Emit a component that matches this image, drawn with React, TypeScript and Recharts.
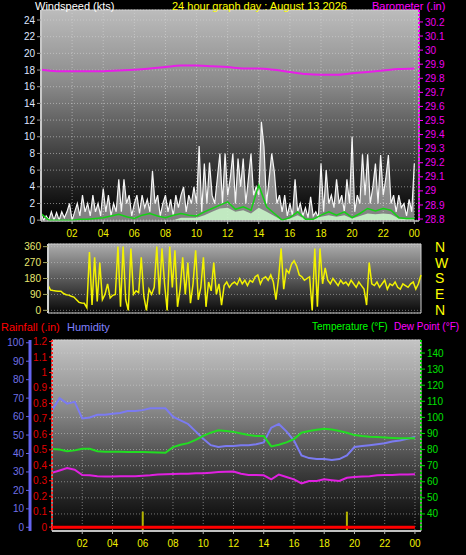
import React from "react";
import {
  ComposedChart,
  Line,
  Area,
  XAxis,
  YAxis,
  CartesianGrid,
  ReferenceArea,
  ReferenceLine,
} from "recharts";

// ---- tick labels ----
const hourTicks = [2, 4, 6, 8, 10, 12, 14, 16, 18, 20, 22, 24];
const windTicks = [0, 2, 4, 6, 8, 10, 12, 14, 16, 18, 20, 22, 24];
const baroTicks = [28.8, 28.9, 29, 29.1, 29.2, 29.3, 29.4, 29.5, 29.6, 29.7, 29.8, 29.9, 30, 30.1, 30.2];
const dirTicks = [0, 90, 180, 270, 360];
const compassNames: Record<number, string> = { 0: "N", 90: "E", 180: "S", 270: "W", 360: "N" };
const rainTicks = [0, 0.1, 0.2, 0.3, 0.4, 0.5, 0.6, 0.7, 0.8, 0.9, 1, 1.1, 1.2];
const humTicks = [0, 10, 20, 30, 40, 50, 60, 70, 80, 90, 100];
const tempTicks = [40, 50, 60, 70, 80, 90, 100, 110, 120, 130, 140];

// ---- wind gust (kts), every 10 min ----
const windGust = [
  0.8, 0, 0.5, 0, 1, 0,
  0.9, 0, 1, 0.3, 1, 2,
  0, 1, 2, 0.5, 3, 1,
  2, 0.5, 3, 1, 2, 0.5,
  3.8, 1, 3, 0.5, 2, 1,
  4.9, 1, 4.9, 2, 3, 0.5,
  2, 3, 0.8, 3, 1.5, 2.5,
  1, 5.9, 2, 3, 0.5, 2,
  3, 1, 2.5, 0.5, 3, 1.5,
  3, 4, 1, 3, 2, 4,
  2, 8.9, 1, 6.8, 2, 6.9,
  3, 2, 5, 8, 2, 8,
  3, 5, 8, 2, 7.4, 4,
  7.4, 2, 5, 8, 3, 4,
  3, 11.8, 8.8, 2, 5, 8,
  5.8, 2, 3, 1, 3, 0.5,
  2, 0.5, 4.9, 1, 2, 0.5,
  1.5, 0.3, 2.8, 0.5, 1, 0.3,
  6.8, 1, 6, 2, 3, 1.5,
  4.9, 2, 3, 1, 4.9, 2,
  10, 1, 3, 2, 7.9, 3,
  7.9, 2, 4, 6.8, 2, 7.8,
  3, 5, 7.8, 2, 3, 1,
  3, 1.5, 2, 0.5, 2.5, 1,
  6.8,
];

// ---- wind average and speed (kts), every 30 min ----
const windAvg = [
  0.8, 0, 0, 0, 0, 0.1, 0.1, 0.2, 0.3, 0.5, 0.7, 0.4, 0.2, 0.6, 0.8, 0.5,
  0.3, 0.6, 0.8, 0.6, 0.5, 1.0, 1.4, 1.8, 2.2, 1.3, 1.6, 1.2, 4.2, 1.6,
  0.8, 0, 0.3, 1.0, 0.1, 0.1, 0.6, 1.0, 0.6, 1.0, 0.3, 0.8, 1.4, 1.1,
  1.4, 1.2, 0.3, 0.2, 0.2,
];
const windSpeed = [
  0, 0, 0, 0, 0, 0, 0, 0, 0, 0, 0, 0, 0, 0, 0, 0,
  0, 0, 0.3, 0.3, 0.3, 0.6, 1.0, 1.4, 1.5, 1.0, 1.2, 0.8, 1.5, 1.0,
  0.5, 0, 0.2, 0.6, 0.1, 0.1, 0.4, 0.6, 0.4, 0.6, 0.2, 0.5, 0.8, 0.7,
  0.8, 0.7, 0.2, 0.1, 0.1,
];

// ---- barometer (in), hourly ----
const barometer = [
  29.86, 29.85, 29.85, 29.85, 29.85, 29.855, 29.86, 29.87, 29.88, 29.89, 29.89,
  29.885, 29.88, 29.87, 29.87, 29.86, 29.845, 29.83, 29.825, 29.825, 29.835,
  29.845, 29.855, 29.865, 29.87,
];

// ---- wind direction (deg), every 10 min ----
const windDir = [
  143, 115, 112, 110, 108, 108,
  95, 88, 86, 80, 75, 60,
  45, 42, 40, 15, 330, 30,
  300, 50, 270, 60, 90, 150,
  70, 85, 90, 360, 20, 360,
  60, 0, 350, 90, 110, 100,
  300, 80, 0, 120, 90, 130,
  360, 90, 350, 150, 0, 360,
  130, 340, 20, 120, 300, 90,
  270, 40, 150, 340, 60, 130,
  300, 20, 160, 110, 270, 90,
  150, 30, 140, 160, 130, 150,
  160, 145, 180, 150, 170, 140,
  170, 160, 190, 200, 150, 180,
  190, 170, 200, 160, 60, 180,
  350, 120, 230, 210, 260, 280,
  250, 200, 190, 170, 180, 190,
  0, 350, 20, 350, 150, 240,
  170, 150, 180, 160, 140, 170,
  150, 160, 140, 170, 150, 130,
  160, 140, 120, 30, 270, 150,
  140, 160, 130, 150, 170, 120,
  150, 140, 160, 130, 120, 150,
  140, 130, 150, 160, 120, 150,
  200,
];

// ---- humidity (%), temperature and dew point (F), every 30 min ----
const humidity = [
  63.5, 70, 67, 68, 59, 59.5, 61, 61, 61.5, 62, 63, 63, 63.5, 64.5, 64.5, 64.5,
  60, 58, 56, 52, 48, 44.5, 43.5, 44, 44, 44.5, 44.5, 45, 46, 54, 56, 52, 47,
  39, 37.5, 37, 37, 36.5, 37, 39, 43.5, 44, 44.5, 45, 45.5, 46.5, 47, 48, 49,
];
const temperature = [
  80.4, 80, 79, 79.5, 80.5, 80.5, 79, 78.7, 78.7, 78.7, 78.5, 78.5, 78.5, 78.3,
  78.2, 78, 81.5, 83, 84, 86, 88.5, 90.5, 92, 91.5, 91, 90, 89, 88.5, 88.4, 82,
  83, 84.5, 86.5, 90.5, 91.5, 92.3, 93, 92.5, 91.5, 90.5, 89, 88.4, 88, 87.8,
  87.5, 87.2, 87, 87, 87,
];
const dewPoint = [
  65.6, 67, 68.5, 67.5, 64.2, 64, 63.5, 63.2, 63.2, 63.5, 63.5, 63.5, 63.8, 64,
  64.5, 64.7, 64.8, 65, 65, 65.3, 65.3, 65.6, 66, 66.2, 66.3, 65, 64.2, 64.2, 64,
  61.5, 64.5, 63, 61.5, 59, 60.5, 60.5, 61.5, 61, 60.5, 62.5, 63, 63.2, 63.5, 64,
  64.2, 64.2, 64.5, 64.5, 64.7,
];

// ---- rainfall (in), hourly, and rain marker hours ----
const rainfall = [0, 0, 0, 0, 0, 0, 0, 0, 0, 0, 0, 0, 0, 0, 0, 0, 0, 0, 0, 0, 0, 0, 0, 0, 0];
const rainMarks = [6, 19.5];

const rows = (vals: number[], perHour: number) => vals.map((v, i) => ({ h: i / perHour, v }));

const hourLabel = (h: number) => (h === 24 ? "00" : String(h).padStart(2, "0"));
const trimNum = (v: number) => String(Number(v.toFixed(1)));

const FONT = "'Liberation Sans', Arial, sans-serif";

const label = (text: string, left: number, top: number, color: string, size = 11) => (
  <div
    style={{
      position: "absolute",
      left,
      top,
      color,
      fontSize: size,
      lineHeight: "12px",
      whiteSpace: "nowrap",
    }}
  >
    {text}
  </div>
);

const App = () => {
  const gustRows = rows(windGust, 6);
  const avgRows = rows(windAvg, 2);
  const speedRows = rows(windSpeed, 2);
  const baroRows = rows(barometer, 1);
  const dirRows = rows(windDir, 6);
  const humRows = rows(humidity, 2);
  const tempRows = rows(temperature, 2);
  const dewRows = rows(dewPoint, 2);
  const rainRows = rows(rainfall, 1);

  return (
    <div
      style={{
        position: "absolute",
        left: 0,
        top: 0,
        width: 466,
        height: 555,
        background: "#000",
        fontFamily: FONT,
        overflow: "hidden",
      }}
    >
      {/* wind speed + barometer */}
      <div style={{ position: "absolute", left: 0, top: 0 }}>
        <ComposedChart width={466} height={245} margin={{ top: 10, right: 0, bottom: 0, left: 0 }}>
          <defs>
            <linearGradient id="bg1" x1="0" y1="0" x2="0" y2="1">
              <stop offset="0%" stopColor="#bcbcbc" />
              <stop offset="35%" stopColor="#8a8a8a" />
              <stop offset="70%" stopColor="#3c3c3c" />
              <stop offset="100%" stopColor="#000000" />
            </linearGradient>
          </defs>
          <CartesianGrid
            yAxisId="wind"
            fill="url(#bg1)"
            stroke="#d8d8d8"
            strokeOpacity={0.55}
            strokeDasharray="1 2"
          />
          <XAxis
            type="number"
            dataKey="h"
            domain={[0, 24.3]}
            ticks={hourTicks}
            tickFormatter={hourLabel}
            height={24}
            allowDataOverflow
            tick={{ fill: "#f0f000", fontSize: 10 }}
            axisLine={{ stroke: "#b8b8b8" }}
            tickLine={{ stroke: "#b8b8b8" }}
            tickSize={3}
            tickMargin={6}
          />
          <YAxis
            yAxisId="wind"
            width={41}
            domain={[-0.1, 25.2]}
            ticks={windTicks}
            interval={0}
            allowDataOverflow
            tick={{ fill: "#dfe6ff", fontSize: 10 }}
            axisLine={{ stroke: "#c8c8c8", strokeWidth: 2 }}
            tickLine={{ stroke: "#9a9a9a" }}
            tickSize={4}
          />
          <YAxis
            yAxisId="baro"
            orientation="right"
            width={47}
            domain={[28.786, 30.285]}
            ticks={baroTicks}
            interval={0}
            allowDataOverflow
            tickFormatter={trimNum}
            tick={{ fill: "#ee00ee", fontSize: 10 }}
            axisLine={{ stroke: "#ff00ff", strokeDasharray: "2 2", strokeWidth: 2 }}
            tickLine={{ stroke: "#ff00ff" }}
            tickSize={4}
          />
          <Area
            yAxisId="wind"
            data={gustRows}
            dataKey="v"
            type="linear"
            stroke="#f6f6f6"
            strokeWidth={1.2}
            fill="#ffffff"
            fillOpacity={0.5}
            dot={false}
            isAnimationActive={false}
          />
          <Area
            yAxisId="wind"
            data={speedRows}
            dataKey="v"
            type="linear"
            stroke="none"
            fill="#c8f4c8"
            fillOpacity={0.9}
            dot={false}
            isAnimationActive={false}
          />
          <Line
            yAxisId="wind"
            data={avgRows}
            dataKey="v"
            type="linear"
            stroke="#14d214"
            strokeWidth={1.5}
            dot={false}
            isAnimationActive={false}
          />
          <Line
            yAxisId="baro"
            data={baroRows}
            dataKey="v"
            type="monotone"
            stroke="#e81ee8"
            strokeWidth={2}
            dot={false}
            isAnimationActive={false}
          />
          <ReferenceArea
            yAxisId="wind"
            x1={0}
            x2={24.3}
            y1={-0.1}
            y2={25.2}
            fill="none"
            stroke="#cfcfcf"
            ifOverflow="visible"
          />
        </ComposedChart>
      </div>

      {label("Windspeed (kts)", 35, 0, "#ffffff")}
      {label("24 hour graph day : August 13 2026", 172, 0, "#ffff00")}
      {label("Barometer (.in)", 372, 0, "#ff00ff")}

      {/* wind direction */}
      <div style={{ position: "absolute", left: 0, top: 240 }}>
        <ComposedChart width={466} height={80} margin={{ top: 4, right: 0, bottom: 7, left: 0 }}>
          <defs>
            <linearGradient id="bg2" x1="0" y1="0" x2="0" y2="1">
              <stop offset="0%" stopColor="#acacac" />
              <stop offset="50%" stopColor="#5a5a5a" />
              <stop offset="100%" stopColor="#080808" />
            </linearGradient>
          </defs>
          <CartesianGrid
            yAxisId="dir"
            fill="url(#bg2)"
            stroke="#d0d0d0"
            strokeOpacity={0.5}
            strokeDasharray="1 2"
            vertical={false}
          />
          <XAxis type="number" dataKey="h" domain={[0, 24]} hide />
          <YAxis
            yAxisId="dir"
            width={48}
            domain={[-15, 375]}
            ticks={dirTicks}
            interval={0}
            allowDataOverflow
            tick={{ fill: "#e8e870", fontSize: 10 }}
            axisLine={{ stroke: "#d0d0d0", strokeWidth: 2 }}
            tickLine={{ stroke: "#a0a060" }}
            tickSize={5}
          />
          <YAxis
            yAxisId="cmp"
            orientation="right"
            width={45}
            domain={[-15, 375]}
            ticks={dirTicks}
            interval={0}
            allowDataOverflow
            tickFormatter={(v: number) => compassNames[v]}
            tick={{ fill: "#ffff00", fontSize: 14 }}
            axisLine={false}
            tickLine={false}
            tickSize={6}
            tickMargin={8}
          />
          <Line
            yAxisId="dir"
            data={dirRows}
            dataKey="v"
            type="linear"
            stroke="#f2f200"
            strokeWidth={1.5}
            dot={false}
            isAnimationActive={false}
          />
          <ReferenceArea
            yAxisId="dir"
            x1={0}
            x2={24}
            y1={-15}
            y2={375}
            fill="none"
            stroke="#cfcfcf"
            ifOverflow="visible"
          />
        </ComposedChart>
      </div>

      {label("Rainfall (.in)", 1, 321, "#ff0000")}
      {label("Humidity", 67, 321, "#8080ff")}
      {label("Temperature (°F)", 312, 321, "#00ff00", 10)}
      {label("Dew Point (°F)", 394, 321, "#ff00ff", 10)}

      {/* rainfall, humidity, temperature */}
      <div style={{ position: "absolute", left: 0, top: 320 }}>
        <ComposedChart width={466} height={235} margin={{ top: 20, right: 0, bottom: 0, left: 0 }}>
          <defs>
            <linearGradient id="bg3" x1="0" y1="0" x2="0" y2="1">
              <stop offset="0%" stopColor="#c4c4c4" />
              <stop offset="35%" stopColor="#8c8c8c" />
              <stop offset="70%" stopColor="#3a3a3a" />
              <stop offset="100%" stopColor="#040404" />
            </linearGradient>
          </defs>
          <CartesianGrid
            yAxisId="temp"
            fill="url(#bg3)"
            stroke="#d8d8d8"
            strokeOpacity={0.5}
            strokeDasharray="1 2"
          />
          <XAxis
            type="number"
            dataKey="h"
            domain={[0, 24.4]}
            ticks={hourTicks}
            tickFormatter={hourLabel}
            height={24}
            allowDataOverflow
            tick={{ fill: "#f0f000", fontSize: 10 }}
            axisLine={{ stroke: "#c0c0c0", strokeWidth: 2 }}
            tickLine={{ stroke: "#b8b8b8" }}
            tickSize={3}
            tickMargin={6}
          />
          <YAxis
            yAxisId="a_rain"
            width={22}
            domain={[-0.025, 1.21]}
            ticks={rainTicks}
            interval={0}
            allowDataOverflow
            tickFormatter={trimNum}
            tick={{ fill: "#e00000", fontSize: 10 }}
            axisLine={{ stroke: "#ff2020", strokeDasharray: "2 2", strokeWidth: 2 }}
            tickLine={{ stroke: "#ff2020" }}
            tickSize={3}
          />
          <YAxis
            yAxisId="b_hum"
            width={30}
            domain={[-2, 101.5]}
            ticks={humTicks}
            interval={0}
            allowDataOverflow
            tick={{ fill: "#7070e8", fontSize: 10 }}
            axisLine={{ stroke: "#6464f0", strokeWidth: 3 }}
            tickLine={{ stroke: "#6464f0" }}
            tickSize={4}
          />
          <YAxis
            yAxisId="temp"
            orientation="right"
            width={45}
            domain={[29.4, 148.1]}
            ticks={tempTicks}
            interval={0}
            allowDataOverflow
            tick={{ fill: "#00e000", fontSize: 10 }}
            axisLine={{ stroke: "#00d000", strokeDasharray: "2 2", strokeWidth: 2 }}
            tickLine={{ stroke: "#00d000" }}
            tickSize={4}
          />
          {rainMarks.map((h) => (
            <ReferenceLine
              key={h}
              yAxisId="a_rain"
              segment={[
                { x: h, y: -0.025 },
                { x: h, y: 0.1 },
              ]}
              stroke="#b4b400"
              strokeWidth={2}
            />
          ))}
          <Line
            yAxisId="b_hum"
            data={humRows}
            dataKey="v"
            type="linear"
            stroke="#7b7bf2"
            strokeWidth={2}
            dot={false}
            isAnimationActive={false}
          />
          <Line
            yAxisId="temp"
            data={tempRows}
            dataKey="v"
            type="linear"
            stroke="#22dd22"
            strokeWidth={2}
            dot={false}
            isAnimationActive={false}
          />
          <Line
            yAxisId="temp"
            data={dewRows}
            dataKey="v"
            type="linear"
            stroke="#e020e0"
            strokeWidth={2}
            dot={false}
            isAnimationActive={false}
          />
          <Line
            yAxisId="a_rain"
            data={rainRows}
            dataKey="v"
            type="linear"
            stroke="#ff0000"
            strokeWidth={3}
            dot={false}
            isAnimationActive={false}
          />
          <ReferenceArea
            yAxisId="temp"
            x1={0}
            x2={24.4}
            y1={29.4}
            y2={148.1}
            fill="none"
            stroke="#d0d0d0"
            ifOverflow="visible"
          />
        </ComposedChart>
      </div>
    </div>
  );
};

export default App;
